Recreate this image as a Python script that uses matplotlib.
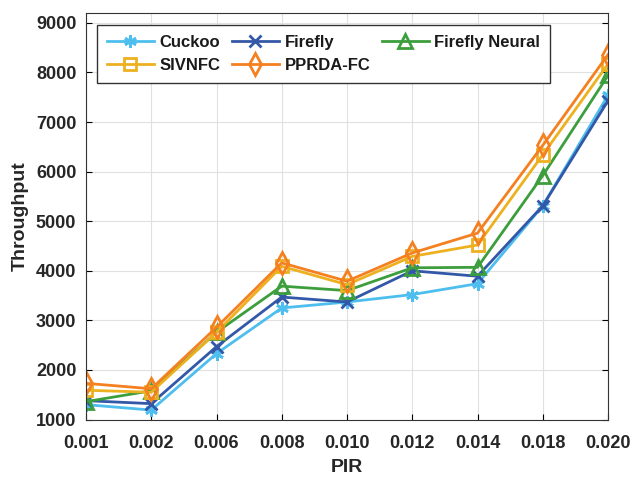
import numpy as np
import matplotlib.pyplot as plt

plt.rcParams['font.family'] = ['Liberation Sans', 'DejaVu Sans']

# valores
pir = ['0.001', '0.002', '0.006', '0.008', '0.010', '0.012', '0.014', '0.018', '0.020']
cuckoo = [1300, 1190, 2330, 3250, 3370, 3520, 3740, 5310, 7540]
firefly = [1380, 1320, 2470, 3470, 3370, 4000, 3890, 5310, 7430]
firefly_neural = [1360, 1580, 2760, 3690, 3600, 4060, 4070, 5920, 7940]
sivnfc = [1590, 1550, 2760, 4090, 3720, 4290, 4520, 6340, 8170]
pprda_fc = [1730, 1620, 2860, 4160, 3790, 4360, 4760, 6530, 8360]

y_ticks = [1000, 2000, 3000, 4000, 5000, 6000, 7000, 8000, 9000]

x = np.arange(len(pir))

fig = plt.figure(figsize=(6.34, 4.78), dpi=100)
ax = fig.add_axes([86 / 634, 58 / 478, 522 / 634, 407 / 478])

series = [
    ('Cuckoo', cuckoo, '#4DBEEE', (6, 2, 0), 9),
    ('Firefly', firefly, '#3358A8', 'x', 8),
    ('Firefly Neural', firefly_neural, '#3C9E3C', '^', 10),
    ('SIVNFC', sivnfc, '#EDB120', 's', 8),
    ('PPRDA-FC', pprda_fc, '#F5801F', 'd', 11),
]

handles = []
for nombre, vals, color, marker, ms in series:
    h, = ax.plot(x, vals, color=color, lw=2, marker=marker, markersize=ms,
                 markerfacecolor='none', markeredgecolor=color, markeredgewidth=2,
                 label=nombre)
    handles.append(h)

ax.set_xlim(0, len(pir) - 1)
ax.set_ylim(990, 9200)
ax.set_xticks(x)
ax.set_xticklabels(pir)
ax.set_yticks(y_ticks)
ax.grid(True, color='#E0E0E0', lw=0.8)
ax.set_axisbelow(True)
ax.tick_params(direction='in', length=4, top=False, right=True, labelsize=13,
               labelcolor='#262626')
ax.tick_params(axis='x', pad=11)
ax.tick_params(axis='y', pad=7)
for lab in ax.get_xticklabels() + ax.get_yticklabels():
    lab.set_fontweight('bold')
for s in ax.spines.values():
    s.set_color('#333333')

ax.set_xlabel('PIR', fontsize=14, fontweight='bold', color='#262626', labelpad=5)
ax.set_ylabel('Throughput', fontsize=14, fontweight='bold', color='#262626', labelpad=5)

# orden por columnas para que quede como el original
orden = [0, 3, 1, 4, 2]
leg = ax.legend([handles[i] for i in orden], [handles[i].get_label() for i in orden],
                ncol=3, loc='upper left', bbox_to_anchor=(0.021, 0.97), borderaxespad=0,
                prop={'weight': 'bold', 'size': 12}, fancybox=False,
                edgecolor='#333333', framealpha=1, handlelength=2.8,
                columnspacing=0.7, handletextpad=0.35, borderpad=0.6, labelspacing=0.45)
for t in leg.get_texts():
    t.set_color('#1a1a1a')

plt.savefig('out.png', dpi=100)
